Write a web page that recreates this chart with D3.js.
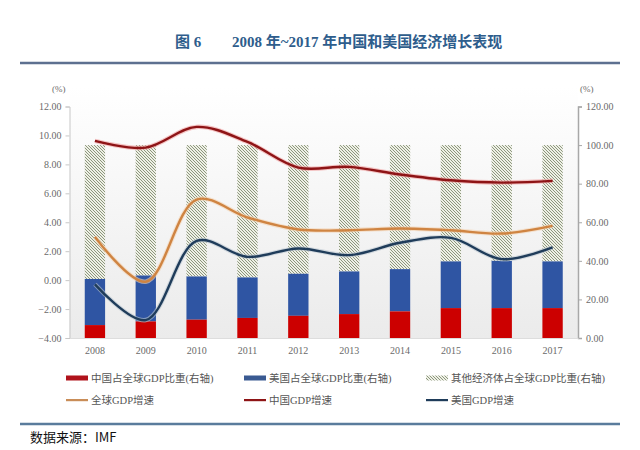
<!DOCTYPE html>
<html><head><meta charset="utf-8">
<script src="https://cdn.jsdelivr.net/npm/d3@7"></script>
<style>body{margin:0;background:#fff}svg{display:block}</style>
</head><body>
<svg id="c" width="640" height="450"></svg>
<script>
const years = ["2008","2009","2010","2011","2012","2013","2014","2015","2016","2017"];
const chinaShare = [6.7, 8.6, 9.5, 10.4, 11.5, 12.4, 13.8, 15.5, 15.5, 15.5];
const usShare = [23.9, 23.8, 22.4, 21.0, 21.8, 22.1, 21.9, 24.2, 24.5, 24.2];
const otherShare = years.map((y,i)=> +(100 - chinaShare[i] - usShare[i]).toFixed(1));
const worldGDP = [2.99, -0.11, 5.57, 4.33, 3.50, 3.45, 3.57, 3.45, 3.22, 3.75];
const chinaGDP = [9.62, 9.16, 10.59, 9.55, 7.78, 7.83, 7.30, 6.90, 6.74, 6.86];
const usGDP = [-0.29, -2.76, 2.71, 1.61, 2.19, 1.73, 2.58, 2.92, 1.45, 2.26];
const leftTicks = [-4,-2,0,2,4,6,8,10,12];
const rightTicks = [0,20,40,60,80,100,120];

const svg = d3.select("#c");
const defs = svg.append("defs");
const grad = defs.append("linearGradient").attr("id","bg").attr("x1",0).attr("y1",0).attr("x2",0).attr("y2",1);
grad.append("stop").attr("offset","0%").attr("stop-color","#ffffff");
grad.append("stop").attr("offset","100%").attr("stop-color","#ebebeb");
const pat = defs.append("pattern").attr("id","hatch").attr("patternUnits","userSpaceOnUse").attr("width",3).attr("height",3);
pat.append("rect").attr("width",3).attr("height",3).attr("fill","#eef0e6");
pat.append("path").attr("d","M-1,-1 L4,4 M-1,2 L1,4 M2,-1 L4,1").attr("stroke","#8c967c").attr("stroke-width",1);

const L = 69.5, R = 578, T = 106.5, B = 338;
const x = d3.scaleBand().domain(years).range([L,R]).paddingInner(0.6).paddingOuter(0.3);
const yL = d3.scaleLinear().domain([-4,12]).range([B,T]);
const yR = d3.scaleLinear().domain([0,120]).range([B,T]);

// title
const title = svg.append("g").attr("font-family","'Liberation Serif','Noto Sans CJK SC',serif").attr("font-weight","bold").attr("font-size",15).attr("fill","#2e5d8c");
title.append("text").attr("x",175).attr("y",47).text("图 6");
title.append("text").attr("x",232).attr("y",47).text("2008 年~2017 年中国和美国经济增长表现");
svg.append("line").attr("x1",20).attr("x2",620).attr("y1",63).attr("y2",63).attr("stroke","#5d7090").attr("stroke-width",2.5);
svg.append("line").attr("x1",20).attr("x2",620).attr("y1",424).attr("y2",424).attr("stroke","#5a7c9c").attr("stroke-width",2.5);

// plot bg
svg.append("rect").attr("x",L).attr("y",T-20).attr("width",R-L).attr("height",B-T+20).attr("fill","url(#bg)");

// stacked bars (right axis)
const bars = svg.append("g");
years.forEach((yr,i)=>{
  const c0 = 0, c1 = chinaShare[i], u1 = c1 + usShare[i], o1 = u1 + otherShare[i];
  bars.append("rect").attr("x",x(yr)).attr("width",x.bandwidth()).attr("y",yR(o1)).attr("height",yR(u1)-yR(o1)).attr("fill","url(#hatch)");
  bars.append("rect").attr("x",x(yr)).attr("width",x.bandwidth()).attr("y",yR(u1)).attr("height",yR(c1)-yR(u1)).attr("fill","#2f55a3");
  bars.append("rect").attr("x",x(yr)).attr("width",x.bandwidth()).attr("y",yR(c1)).attr("height",yR(c0)-yR(c1)).attr("fill","#cc0000");
});

// lines (left axis)
const cx = yr => x(yr) + x.bandwidth()/2;
const line = d3.line().x((d,i)=>cx(years[i])).y(d=>yL(d)).curve(d3.curveCatmullRom.alpha(0.5));
const series = [
  {v: worldGDP, c: "#cf8442", h: "#f3d2b0"},
  {v: usGDP, c: "#1f3c5a", h: "#b9c4cf"},
  {v: chinaGDP, c: "#8e1416", h: "#f0a0a0"}
];
series.forEach(s=>{
  svg.append("path").attr("d",line(s.v)).attr("fill","none").attr("stroke",s.h).attr("stroke-width",4.5).attr("stroke-opacity",0.6);
  svg.append("path").attr("d",line(s.v)).attr("fill","none").attr("stroke",s.c).attr("stroke-width",2.4);
});

// axes
const axFont = "'Liberation Serif',serif";
const la = svg.append("g").attr("transform",`translate(${L},0)`).call(d3.axisLeft(yL).tickValues(leftTicks).tickFormat(d3.format(".2f")).tickSize(4).tickPadding(4));
la.select(".domain").attr("stroke","#c8c8c8");
la.selectAll(".tick line").attr("stroke","#c8c8c8");
la.selectAll("text").attr("font-family",axFont).attr("font-size",10).attr("fill","#6a6a6a");
const ra = svg.append("g").attr("transform",`translate(${R},0)`).call(d3.axisRight(yR).tickValues(rightTicks).tickFormat(d3.format(".2f")).tickSize(4).tickPadding(4));
ra.select(".domain").attr("stroke","#a8a8a8").attr("stroke-width",1.5);
ra.selectAll(".tick line").attr("stroke","#a8a8a8");
ra.selectAll("text").attr("font-family",axFont).attr("font-size",10).attr("fill","#6a6a6a");
const xa = svg.append("g").attr("transform",`translate(0,${B})`).call(d3.axisBottom(x).tickSize(0).tickPadding(9));
xa.select(".domain").attr("stroke","#dddddd");
xa.selectAll("text").attr("font-family",axFont).attr("font-size",10).attr("fill","#6a6a6a");

svg.append("text").attr("x",52).attr("y",92).attr("font-family",axFont).attr("font-size",9).attr("fill","#6a6a6a").text("(%)");
svg.append("text").attr("x",580).attr("y",92).attr("font-family",axFont).attr("font-size",9).attr("fill","#6a6a6a").text("(%)");

// legend
const legFont = "'Liberation Serif','Noto Sans CJK SC',serif";
const legend = [
  {t:"中国占全球GDP比重(右轴)", type:"bar", c:"#b0121b", x:66, y:378},
  {t:"美国占全球GDP比重(右轴)", type:"bar", c:"#3a5a92", x:244, y:378},
  {t:"其他经济体占全球GDP比重(右轴)", type:"hatch", c:"url(#hatch)", x:426, y:378},
  {t:"全球GDP增速", type:"line", c:"#c98d58", x:66, y:400},
  {t:"中国GDP增速", type:"line", c:"#8e1416", x:244, y:400},
  {t:"美国GDP增速", type:"line", c:"#1f3c5a", x:426, y:400}
];
legend.forEach(d=>{
  const g = svg.append("g").attr("transform",`translate(${d.x},${d.y})`);
  if(d.type==="line") g.append("rect").attr("x",0).attr("y",-1).attr("width",22).attr("height",2.2).attr("fill",d.c);
  else g.append("rect").attr("x",0).attr("y",-2.5).attr("width",22).attr("height",5).attr("fill",d.c);
  g.append("text").attr("x",25).attr("y",4).attr("font-family",legFont).attr("font-size",10.5).attr("fill","#555").text(d.t);
});

svg.append("text").attr("x",30).attr("y",442).attr("font-family","'Noto Sans CJK SC',sans-serif").attr("font-size",13).attr("fill","#111").text("数据来源：IMF");
</script>
</body></html>
